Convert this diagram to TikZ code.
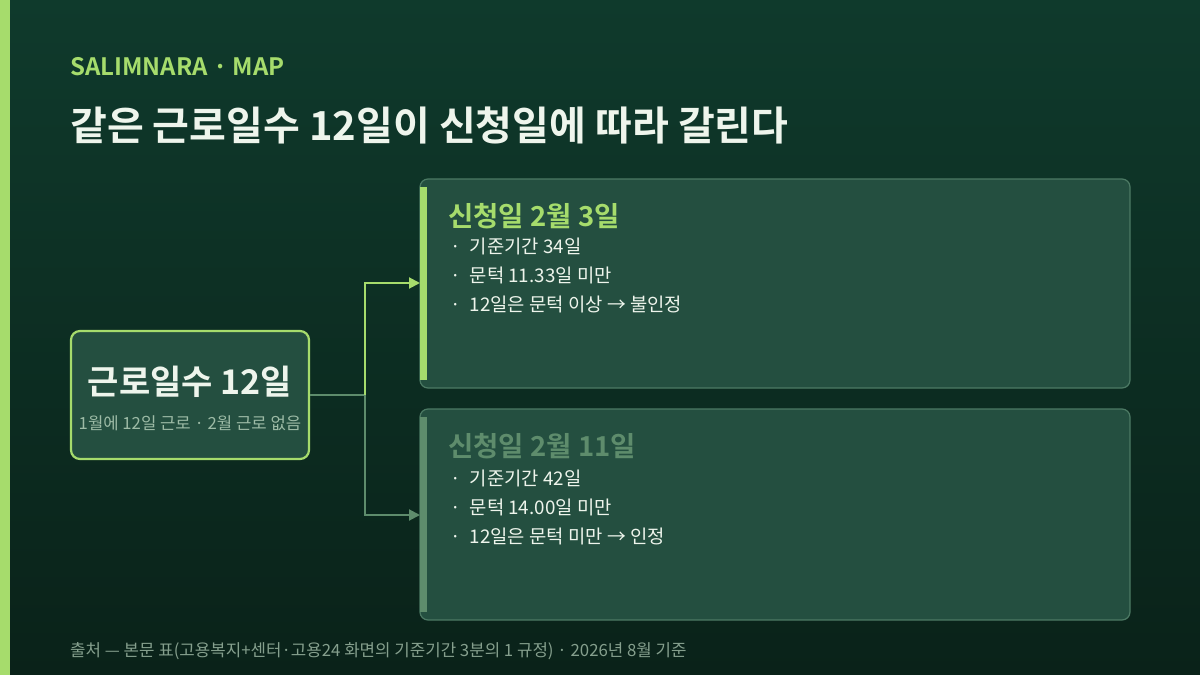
\documentclass[tikz,border=0pt]{standalone}
\usepackage{fontspec}
\setmainfont{Noto Sans CJK KR}
\newfontfamily\kb{Noto Sans CJK KR Bold}
\usetikzlibrary{arrows.meta}
\definecolor{lime}{HTML}{A6DC6C}
\definecolor{dim}{HTML}{5E8C6C}
\definecolor{cardf}{HTML}{244F40}
\definecolor{cardb}{HTML}{4C7A64}
\definecolor{txt}{HTML}{EEF5EC}
\definecolor{sub}{HTML}{9DBBA6}
\definecolor{bgt}{HTML}{0F3A2C}
\definecolor{bgb}{HTML}{0A2219}
\begin{document}
\begin{tikzpicture}[x=1pt,y=-1pt,
  card/.style={draw=cardb,line width=1.2pt,fill=cardf,rounded corners=8pt},
  li/.style={anchor=west,text=txt,font=\fontsize{18.8}{21}\selectfont,inner sep=0pt},
  conn/.style={line width=2pt,-{Triangle[length=11pt,width=11pt]}}]
\useasboundingbox (0,0) rectangle (1200,675);
\shade[top color=bgt,bottom color=bgb] (0,0) rectangle (1200,675);
\fill[lime] (0,0) rectangle (10,675);
\node[anchor=west,text=lime,font=\kb\fontsize{24}{28}\selectfont,inner sep=0pt] (hdr) at (70,67) {SALIMNARA · MAP};
\node[anchor=west,text=txt,font=\kb\fontsize{40}{46}\selectfont,inner sep=0pt] (title) at (70,125) {같은 근로일수 12일이 신청일에 따라 갈린다};
% left box
\node[draw=lime,line width=2.2pt,fill=cardf,rounded corners=9pt,minimum width=238pt,minimum height=128pt] (src) at (190,395) {};
\node[text=txt,font=\kb\fontsize{34}{38}\selectfont,inner sep=0pt] (srct) at (190,382) {근로일수 12일};
\node[text=sub,font=\fontsize{16.7}{19}\selectfont,inner sep=0pt] (srcs) at (190,423) {1월에 12일 근로 · 2월 근로 없음};
% cards
\draw[card] (420,179) rectangle (1130,388);
\coordinate (c1) at (420,283);
\fill[lime] (420,187) rectangle (427,380);
\draw[card] (420,409) rectangle (1130,620);
\coordinate (c2) at (420,515);
\fill[dim] (420,417) rectangle (427,612);
\node[anchor=west,text=lime,font=\kb\fontsize{27.5}{30}\selectfont,inner sep=0pt] (h1) at (448,216) {신청일 2월 3일};
\node[li] (a1) at (450,246) {·\hspace{9pt}기준기간 34일};
\node[li] (a2) at (450,275) {·\hspace{9pt}문턱 11.33일 미만};
\node[li] (a3) at (450,304) {·\hspace{9pt}12일은 문턱 이상 → 불인정};
\node[anchor=west,text=dim,font=\kb\fontsize{27.5}{30}\selectfont,inner sep=0pt] (h2) at (448,446) {신청일 2월 11일};
\node[li] (b1) at (450,478) {·\hspace{9pt}기준기간 42일};
\node[li] (b2) at (450,507) {·\hspace{9pt}문턱 14.00일 미만};
\node[li] (b3) at (450,536) {·\hspace{9pt}12일은 문턱 미만 → 인정};
% connectors
\coordinate (j) at (365,395);
\draw[dim,line width=2pt] (src.east) -- (j);
\draw[conn,lime] (j) |- (c1);
\draw[conn,dim] (j) |- (c2);
\node[anchor=west,text=sub!85!black,font=\fontsize{16.8}{19}\selectfont,inner sep=0pt] (src2) at (70,651) {출처 — 본문 표(고용복지+센터·고용24 화면의 기준기간 3분의 1 규정) · 2026년 8월 기준};
\end{tikzpicture}
\end{document}
